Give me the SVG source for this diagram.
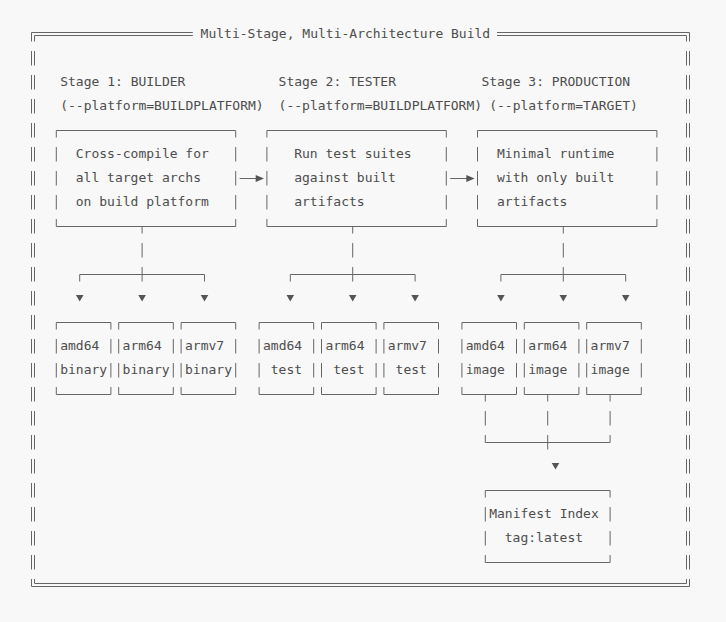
<svg xmlns="http://www.w3.org/2000/svg" width="726" height="622" viewBox="0 0 726 622">
<style>
.t{font-family:"DejaVu Sans Mono","Liberation Mono",monospace;font-size:13px;fill:#4d4d4d;white-space:pre}
.h{fill:none;stroke:#666;stroke-width:1}
.v{fill:none;stroke:#666;stroke-width:1;stroke-dasharray:14.5 9.5;stroke-dashoffset:7.5}
.ah{fill:#555;stroke:none}
</style>
<rect width="726" height="622" fill="#f8f8f8"/>
<g id="frame">
<path class="h" d="M31.5 32.5H192.8M497 32.5H689.5M31.5 586.5H689.5M34.5 35.5H192.8M497 35.5H686.5M34.5 583.5H686.5"/>
<path class="v" style="stroke-dashoffset:5.5" d="M31.5 32.5V586.5M689.5 32.5V586.5"/>
<path class="v" style="stroke-dashoffset:8.5" d="M34.5 35.5V583.5M686.5 35.5V583.5"/>
<text class="t" x="200.6" y="38">Multi-Stage, Multi-Architecture Build</text>
</g>
<g id="stage-labels">
<text class="t" x="60.2" y="86">Stage 1: BUILDER</text>
<text class="t" x="278.6" y="86">Stage 2: TESTER</text>
<text class="t" x="481.4" y="86">Stage 3: PRODUCTION</text>
<text class="t" x="60.2" y="110">(--platform=BUILDPLATFORM)</text>
<text class="t" x="278.6" y="110">(--platform=BUILDPLATFORM)</text>
<text class="t" x="489.2" y="110">(--platform=TARGET)</text>
</g>
<g id="builder">
<path class="h" d="M56.3 130.5H235.7M56.3 226.5H235.7"/>
<path class="v" d="M56.3 130.5V226.5M235.7 130.5V226.5"/>
<text class="t" x="75.8" y="158">Cross-compile for</text>
<text class="t" x="75.8" y="182">all target archs</text>
<text class="t" x="75.8" y="206">on build platform</text>
</g>
<g id="tester">
<path class="h" d="M266.9 130.5H446.3M266.9 226.5H446.3"/>
<path class="v" d="M266.9 130.5V226.5M446.3 130.5V226.5"/>
<text class="t" x="294.2" y="158">Run test suites</text>
<text class="t" x="294.2" y="182">against built</text>
<text class="t" x="294.2" y="206">artifacts</text>
</g>
<g id="production">
<path class="h" d="M477.5 130.5H656.9M477.5 226.5H656.9"/>
<path class="v" d="M477.5 130.5V226.5M656.9 130.5V226.5"/>
<text class="t" x="497" y="158">Minimal runtime</text>
<text class="t" x="497" y="182">with only built</text>
<text class="t" x="497" y="206">artifacts</text>
</g>
<g id="binary-amd64">
<path class="h" d="M56.3 322.5H110.9M56.3 394.5H110.9"/>
<path class="v" d="M56.3 322.5V394.5M110.9 322.5V394.5"/>
<text class="t" x="60.2" y="350">amd64</text>
<text class="t" x="60.2" y="374">binary</text>
</g>
<g id="binary-arm64">
<path class="h" d="M118.7 322.5H173.3M118.7 394.5H173.3"/>
<path class="v" d="M118.7 322.5V394.5M173.3 322.5V394.5"/>
<text class="t" x="122.6" y="350">arm64</text>
<text class="t" x="122.6" y="374">binary</text>
</g>
<g id="binary-armv7">
<path class="h" d="M181.1 322.5H235.7M181.1 394.5H235.7"/>
<path class="v" d="M181.1 322.5V394.5M235.7 322.5V394.5"/>
<text class="t" x="185" y="350">armv7</text>
<text class="t" x="185" y="374">binary</text>
</g>
<g id="test-amd64">
<path class="h" d="M259.1 322.5H313.7M259.1 394.5H313.7"/>
<path class="v" d="M259.1 322.5V394.5M313.7 322.5V394.5"/>
<text class="t" x="263" y="350">amd64</text>
<text class="t" x="270.8" y="374">test</text>
</g>
<g id="test-arm64">
<path class="h" d="M321.5 322.5H376.1M321.5 394.5H376.1"/>
<path class="v" d="M321.5 322.5V394.5M376.1 322.5V394.5"/>
<text class="t" x="325.4" y="350">arm64</text>
<text class="t" x="333.2" y="374">test</text>
</g>
<g id="test-armv7">
<path class="h" d="M383.9 322.5H438.5M383.9 394.5H438.5"/>
<path class="v" d="M383.9 322.5V394.5M438.5 322.5V394.5"/>
<text class="t" x="387.8" y="350">armv7</text>
<text class="t" x="395.6" y="374">test</text>
</g>
<g id="image-amd64">
<path class="h" d="M461.9 322.5H516.5M461.9 394.5H516.5"/>
<path class="v" d="M461.9 322.5V394.5M516.5 322.5V394.5"/>
<text class="t" x="465.8" y="350">amd64</text>
<text class="t" x="465.8" y="374">image</text>
</g>
<g id="image-arm64">
<path class="h" d="M524.3 322.5H578.9M524.3 394.5H578.9"/>
<path class="v" d="M524.3 322.5V394.5M578.9 322.5V394.5"/>
<text class="t" x="528.2" y="350">arm64</text>
<text class="t" x="528.2" y="374">image</text>
</g>
<g id="image-armv7">
<path class="h" d="M586.7 322.5H641.3M586.7 394.5H641.3"/>
<path class="v" d="M586.7 322.5V394.5M641.3 322.5V394.5"/>
<text class="t" x="590.6" y="350">armv7</text>
<text class="t" x="590.6" y="374">image</text>
</g>
<g id="manifest">
<path class="h" d="M485.3 490.5H610.1M485.3 562.5H610.1"/>
<path class="v" d="M485.3 490.5V562.5M610.1 490.5V562.5"/>
<text class="t" x="489.2" y="518">Manifest Index</text>
<text class="t" x="504.8" y="542">tag:latest</text>
</g>
<g id="connectors">
<path class="h" d="M239.6 178.5H257M450.2 178.5H467.6"/>
<polygon class="ah" points="255.7,175 264,178.5 255.7,182"/>
<polygon class="ah" points="466.3,175 474.6,178.5 466.3,182"/>
<path class="v" d="M142.1 226.5V281.5M352.7 226.5V281.5M563.3 226.5V281.5"/>
<path class="h" d="M79.7 274.5H204.5M290.3 274.5H415.1M500.9 274.5H625.7"/>
<path class="v" d="M79.7 274.5V281.5M204.5 274.5V281.5M290.3 274.5V281.5M415.1 274.5V281.5M500.9 274.5V281.5M625.7 274.5V281.5"/>
<polygon class="ah" points="75.9,295 83.5,295 79.7,301.5"/>
<polygon class="ah" points="138.3,295 145.9,295 142.1,301.5"/>
<polygon class="ah" points="200.7,295 208.3,295 204.5,301.5"/>
<polygon class="ah" points="286.5,295 294.1,295 290.3,301.5"/>
<polygon class="ah" points="348.9,295 356.5,295 352.7,301.5"/>
<polygon class="ah" points="411.3,295 418.9,295 415.1,301.5"/>
<polygon class="ah" points="497.1,295 504.7,295 500.9,301.5"/>
<polygon class="ah" points="559.5,295 567.1,295 563.3,301.5"/>
<polygon class="ah" points="621.9,295 629.5,295 625.7,301.5"/>
<path class="v" d="M485.3 394.5V442.5M610.1 394.5V442.5M547.7 394.5V449.5"/>
<path class="h" d="M485.3 442.5H610.1"/>
<polygon class="ah" points="551.7,463 559.3,463 555.5,469.5"/>
</g>
</svg>
